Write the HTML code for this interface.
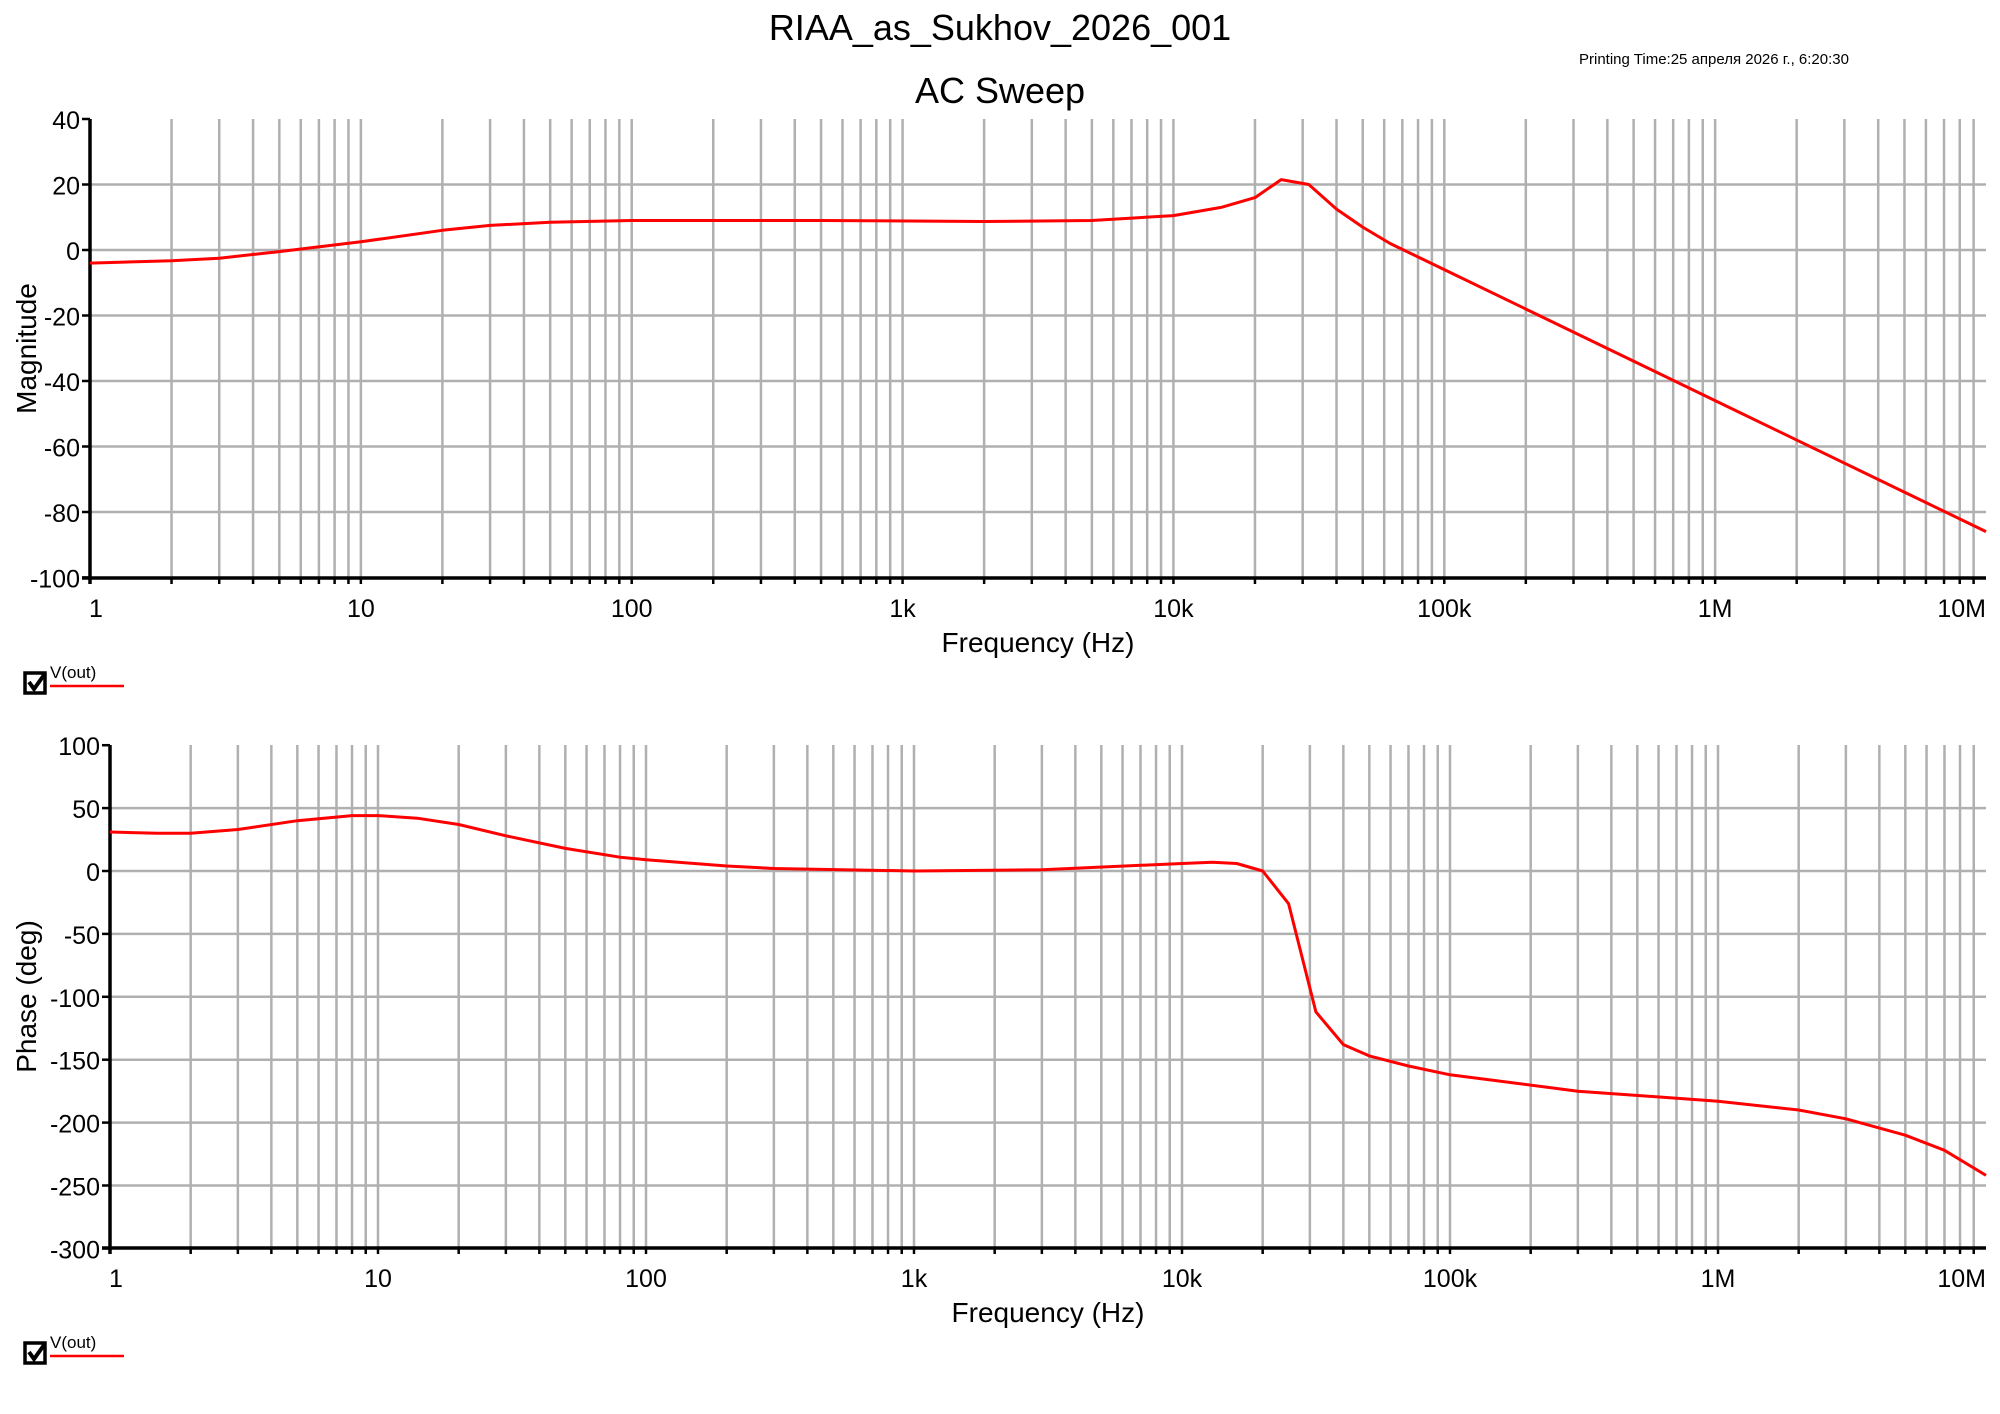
<!DOCTYPE html>
<html><head><meta charset="utf-8"><style>
body{margin:0;background:#fff}
svg{display:block;font-family:"Liberation Sans",Arial,sans-serif}
</style></head><body>
<svg id="s" width="2000" height="1414" xmlns="http://www.w3.org/2000/svg">
<text x="1000" y="40" font-size="36" text-anchor="middle">RIAA_as_Sukhov_2026_001</text>
<text x="1579" y="64" font-size="15">Printing Time:25 апреля 2026 г., 6:20:30</text>
<text x="1000" y="103" font-size="36" text-anchor="middle">AC Sweep</text>
</svg>
<script>
var s=document.getElementById('s'),NS='http://www.w3.org/2000/svg';
function el(t,a,txt){var e=document.createElementNS(NS,t);for(var k in a)e.setAttribute(k,a[k]);if(txt!=null)e.textContent=txt;s.appendChild(e);return e;}
function plot(o){
  var X=function(f){return o.x0+(o.x1-o.x0)*Math.log10(f)/7;};
  var Y=function(v){return o.yz-v*o.k;};
  // grid
  for(var d=0;d<7;d++)for(var m=1;m<=9;m++){var f=m*Math.pow(10,d);if(f==1)continue;var x=X(f);
    el('line',{x1:x,x2:x,y1:o.yt,y2:o.yb,stroke:'#b0b0b0','stroke-width':2.5});
    el('line',{x1:x,x2:x,y1:o.yb,y2:o.yb+6,stroke:'#000','stroke-width':2.5});}
  o.yt_vals.forEach(function(v){var y=Y(v);
    if(v!=o.ytop&&v!=o.ybot)el('line',{x1:o.x0,x2:o.x1,y1:y,y2:y,stroke:'#b0b0b0','stroke-width':2.5});
    el('line',{x1:o.x0-8,x2:o.x0,y1:y,y2:y,stroke:'#000','stroke-width':2.5});
    el('text',{x:o.x0-10,y:y+10,'font-size':25,'text-anchor':'end'},String(v));});
  el('line',{x1:o.x0,x2:o.x0,y1:o.yt,y2:o.yb+6,stroke:'#000','stroke-width':3.5});
  el('line',{x1:o.x0-8,x2:o.x1,y1:o.yb,y2:o.yb,stroke:'#000','stroke-width':3.5});
  var labs=['1','10','100','1k','10k','100k','1M','10M'];
  labs.forEach(function(l,i){var x=X(Math.pow(10,i));var anc=i==7?'end':'middle';if(i==0)x+=6;
    el('text',{x:x,y:o.yb+39,'font-size':25,'text-anchor':anc},l);});
  el('text',{x:(o.x0+o.x1)/2,y:o.yb+74,'font-size':28,'text-anchor':'middle'},'Frequency (Hz)');
  var cy=(o.yt+o.yb)/2;
  el('text',{x:0,y:0,'font-size':28,'text-anchor':'middle',transform:'translate(36,'+cy+') rotate(-90)'},o.ylab);
  var pts=o.data.map(function(p){return X(p[0]).toFixed(1)+','+Y(p[1]).toFixed(1);}).join(' ');
  el('polyline',{points:pts,fill:'none',stroke:'#f00','stroke-width':3,'stroke-linejoin':'round'});
  // legend
  var ly=o.leg;
  el('rect',{x:25,y:ly,width:20,height:20,fill:'none',stroke:'#000','stroke-width':3.5});
  el('path',{d:'M29 '+(ly+9)+' L34 '+(ly+16)+' L44 '+(ly+2),fill:'none',stroke:'#000','stroke-width':4});
  el('text',{x:50,y:ly+5,'font-size':17},'V(out)');
  el('line',{x1:50,x2:124,y1:ly+13,y2:ly+13,stroke:'#f00','stroke-width':2.5});
}
var mag=[[1,-4],[2,-3.3],[3,-2.5],[5,-0.5],[10,2.5],[20,6],[30,7.5],[50,8.5],[100,9],[500,9],[2000,8.7],[5000,9],[10000,10.5],[15000,13],[20000,16],[25000,21.5],[31600,20],[40000,12.5],[50000,7],[63000,2],[100000,-6],[1e6,-46],[1e7,-86]];
var ph=[[1,31],[1.5,30],[2,30],[3,33],[5,40],[8,44],[10,44],[14,42],[20,37],[30,28],[50,18],[80,11],[100,9],[200,4],[300,2],[1000,0],[3000,1],[10000,6],[13000,7],[16000,6],[20000,0],[25000,-26],[31600,-112],[40000,-138],[50000,-147],[70000,-155],[100000,-162],[300000,-175],[1e6,-183],[2e6,-190],[3e6,-197],[5e6,-210],[7e6,-222],[1e7,-242]];
plot({x0:90,x1:1986,yt:119,yb:578,yz:250,k:3.275,ytop:40,ybot:-100,yt_vals:[40,20,0,-20,-40,-60,-80,-100],ylab:'Magnitude',data:mag,leg:673});
plot({x0:110,x1:1986,yt:745,yb:1248,yz:871,k:1.258,ytop:100,ybot:-300,yt_vals:[100,50,0,-50,-100,-150,-200,-250,-300],ylab:'Phase (deg)',data:ph,leg:1343});
</script>
</body></html>
